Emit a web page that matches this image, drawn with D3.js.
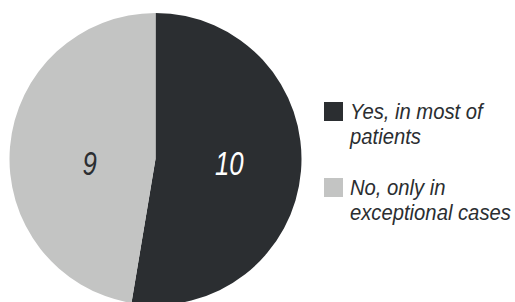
<!DOCTYPE html>
<html><head><meta charset="utf-8">
<script src="https://cdn.jsdelivr.net/npm/d3@7"></script>
<style>body{margin:0;background:#fff}svg{display:block}</style>
</head><body>
<script>
const categories = ["Yes, in most of patients", "No, only in exceptional cases"];
const legendLines = [["Yes, in most of", "patients"], ["No, only in", "exceptional cases"]];
const values = [10, 9];
const colors = ["#2b2e31", "#c3c4c3"];
const labelColors = ["#ffffff", "#2b2e31"];

const W = 515, H = 302;
const cx = 155.5, cy = 159, R = 146;
const font = "'Liberation Sans', Arial, sans-serif";

const svg = d3.select("body").append("svg").attr("width", W).attr("height", H);
const data = categories.map((c, i) => ({c, v: values[i], i}));
const pie = d3.pie().value(d => d.v).sort(null);
const arcs = pie(data);
const arc = d3.arc().innerRadius(0).outerRadius(R);
const labelArc = d3.arc().innerRadius(70).outerRadius(70);

const g = svg.append("g").attr("transform", `translate(${cx},${cy})`);
g.selectAll("path").data(arcs).enter().append("path")
  .attr("d", arc).attr("fill", d => colors[d.data.i]);

g.selectAll("text").data(arcs).enter().append("text")
  .attr("transform", d => `translate(${labelArc.centroid(d)[0] + 4},16) scale(0.78,1)`)
  .attr("text-anchor", "middle")
  .attr("font-family", font).attr("font-style", "italic").attr("font-size", 33)
  .attr("fill", d => labelColors[d.data.i])
  .text(d => d.data.v);

const lg = svg.append("g");
const items = lg.selectAll("g").data(data).enter().append("g")
  .attr("transform", (d, i) => `translate(324,${102 + i * 76})`);
items.append("rect").attr("width", 19).attr("height", 19).attr("fill", d => colors[d.i]);
items.each(function(d) {
  const t = d3.select(this).append("text")
    .attr("transform", "translate(26,0) scale(0.9,1)")
    .attr("font-family", font).attr("font-style", "italic").attr("font-size", 22.5)
    .attr("fill", "#2b2e31");
  legendLines[d.i].forEach((ln, k) => {
    t.append("tspan").attr("x", 0).attr("y", 17 + k * 25).text(ln);
  });
});
</script>
</body></html>
